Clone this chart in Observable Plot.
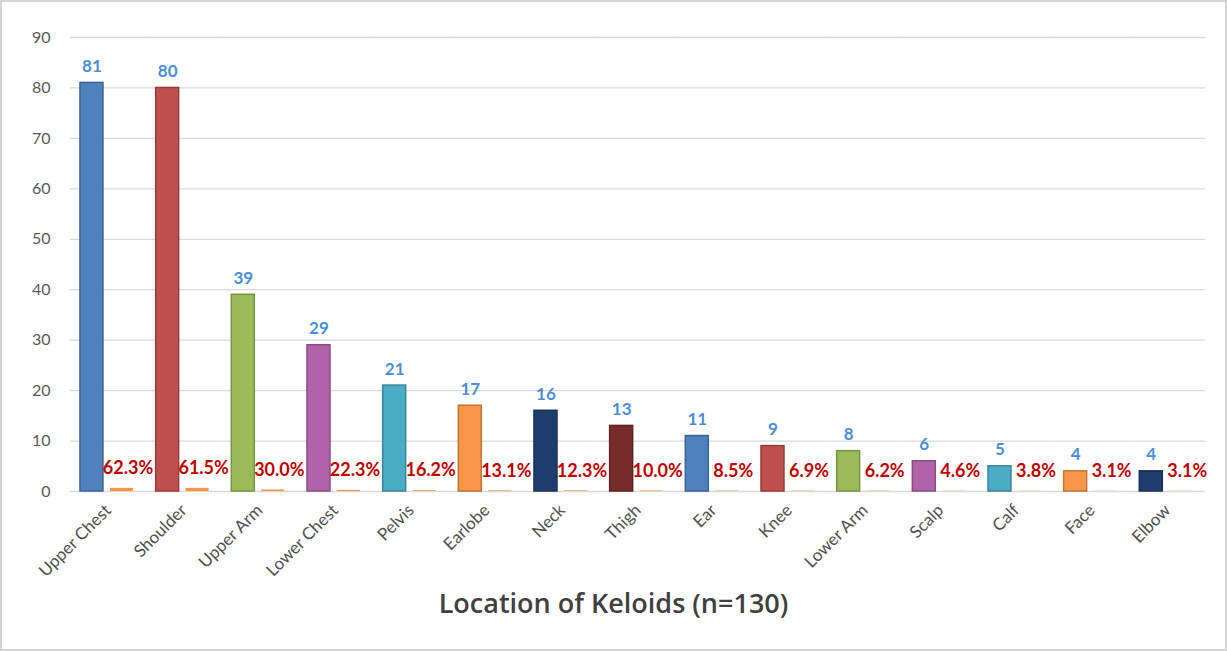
<!DOCTYPE html>
<html><head><meta charset="utf-8">
<script src="https://cdn.jsdelivr.net/npm/d3@7"></script>
<script src="https://cdn.jsdelivr.net/npm/@observablehq/plot@0.6"></script>
<style>
html,body{margin:0;padding:0;background:#fff;}
#wrap{position:relative;width:1227px;height:651px;overflow:hidden;font-family:Lato,"Open Sans",sans-serif;background:#fff;}
#wrap::after{content:"";position:absolute;left:0;top:0;right:0;bottom:0;border:2px solid #d4d4d4;pointer-events:none;}
#chart{position:absolute;left:0;top:0;}
#title{position:absolute;left:0;width:1227px;top:584px;text-align:center;font-size:27px;color:#404040;font-weight:600;font-family:"Open Sans",Lato,sans-serif;}
svg{display:block;}
</style></head><body>
<div id="wrap"><div id="chart"></div><div id="title">Location of Keloids (n=130)</div></div>
<script>
const categories = ["Upper Chest","Shoulder","Upper Arm","Lower Chest","Pelvis","Earlobe","Neck","Thigh","Ear","Knee","Lower Arm","Scalp","Calf","Face","Elbow"];
const counts = [81,80,39,29,21,17,16,13,11,9,8,6,5,4,4];
const percents = [62.3,61.5,30.0,22.3,16.2,13.1,12.3,10.0,8.5,6.9,6.2,4.6,3.8,3.1,3.1];
const seriesNames = ["Count","Percent"];
const yTicks = [0,10,20,30,40,50,60,70,80,90];
const palette = ["#4f81bd","#c0504d","#9bbb59","#b063a8","#4bacc6","#f79646","#1f3d6e","#772c2a","#4f81bd","#c0504d","#9bbb59","#b063a8","#4bacc6","#f79646","#1f3d6e"];
const pctColor = "#f79646";

const countRows = categories.map((c,i)=>({cat:c, series:seriesNames[0], value:counts[i], color:palette[i], edge:d3.color(palette[i]).darker(0.7).formatHex()}));
const pctRows = categories.map((c,i)=>({cat:c, series:seriesNames[1], value:percents[i]/100, pct:percents[i]}));

const chart = Plot.plot({
  width:1227, height:651,
  marginLeft:70, marginRight:22, marginTop:37, marginBottom:160,
  style:{fontFamily:"Lato, 'Open Sans', sans-serif", background:"transparent"},
  fx:{domain:categories, paddingInner:0, paddingOuter:0, round:false, label:null},
  x:{domain:seriesNames, paddingInner:0.2333, paddingOuter:0.378, align:0.44, round:false, axis:null},
  y:{domain:[0,90], label:null},
  color:{type:"identity"},
  marks:[
    Plot.gridY(yTicks,{stroke:"#d9d9d9", strokeOpacity:1, strokeWidth:1.3}),
    Plot.axisY(yTicks,{tickSize:0, tickPadding:20, fontSize:16, fill:"#595959", label:null, tickFormat:d=>String(d)}),
    Plot.axisFx({anchor:"bottom", tickRotate:-45, tickSize:0, tickPadding:16, fontSize:17, fill:"#505050", label:null, lineWidth:100, textOverflow:null}),
    Plot.barY(countRows,{fx:"cat", x:"series", y:"value", fill:"color", stroke:"edge", strokeWidth:1.5}),
    Plot.barY(pctRows,{fx:"cat", x:"series", y:"value", fill:pctColor}),
    Plot.text(countRows,{fx:"cat", x:"series", y:"value", text:d=>String(d.value), dy:-11, lineAnchor:"bottom", fill:"#4a8fd6", fontWeight:"bold", fontSize:17}),
    Plot.text(pctRows,{fx:"cat", x:"series", y:"value", text:d=>d.pct.toFixed(1)+"%", dy:-20, dx:6, fill:"#c00000", fontWeight:"bold", fontSize:18})
  ]
});
document.getElementById("chart").appendChild(chart);
</script>
</body></html>
